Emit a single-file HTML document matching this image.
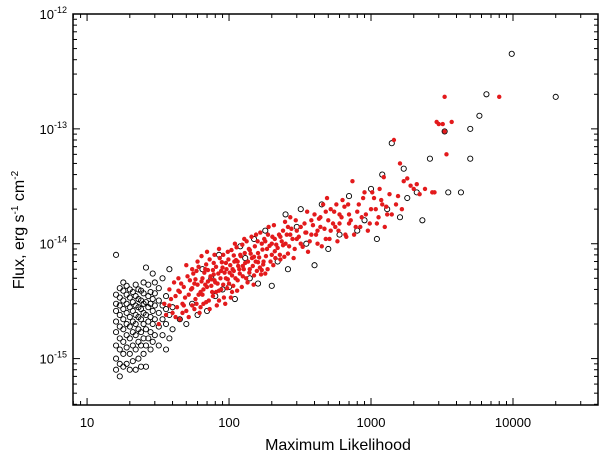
<!DOCTYPE html>
<html><head><meta charset="utf-8"><style>
html,body{margin:0;padding:0;background:#fff;}
svg{display:block;font-family:"Liberation Sans",Arial,sans-serif;}
</style></head><body>
<svg id="chart" width="600" height="456" viewBox="0 0 600 456">
<g id="marks"></g>
<g id="axes"></g>
<text x="338" y="450" text-anchor="middle" font-size="16">Maximum Likelihood</text>
<text transform="translate(24,230) rotate(-90)" text-anchor="middle" font-size="16">Flux, erg s<tspan dy="-6" font-size="10">-1</tspan><tspan dy="6"> cm</tspan><tspan dy="-6" font-size="10">-2</tspan></text>
</svg>
<script>
// Data: ML value, flux in units of 1e-15 erg s^-1 cm^-2
const blackML = [16,16,16,16,16,16,16,16,16,17,17,17,17,17,17,17,17,17,18,18,18,18,18,18,18,18,18,19,19,19,19,19,19,19,19,20,20,20,20,20,20,20,20,21,21,21,21,21,21,21,22,22,22,22,22,22,22,22,23,23,23,23,23,23,23,24,24,24,24,24,24,24,25,25,25,25,25,25,25,26,26,26,26,26,26,27,27,27,27,27,28,28,28,28,28,29,29,29,29,29,30,30,30,30,30,32,32,32,32,32,34,34,34,34,36,36,36,36,38,38,38,40,40,
45,50,55,60,65,70,80,90,100,110,120,140,160,180,200,220,260,300,320,350,400,450,500,600,700,800,900,1000,1100,1200,1300,1400,1600,1700,1800,2100,2300,2600,3300,3500,4300,5000,5000,5800,6500,9800,20000,250,150,130,75,85];
const blackFlux = [0.8,1.0,1.3,1.7,2.1,2.6,3.0,3.6,8.0,0.7,0.9,1.2,1.5,1.9,2.4,2.9,3.4,4.1,0.85,1.1,1.4,1.8,2.2,2.7,3.2,3.9,4.6,0.9,1.25,1.6,2.0,2.5,3.0,3.6,4.3,0.8,1.1,1.5,1.9,2.3,2.8,3.4,4.0,0.95,1.3,1.7,2.1,2.6,3.1,3.8,0.8,1.2,1.6,2.0,2.4,2.9,3.5,4.4,1.0,1.4,1.8,2.3,2.8,3.3,4.0,0.85,1.3,1.7,2.2,2.7,3.2,3.9,1.1,1.5,2.0,2.5,3.0,3.7,4.6,0.85,1.3,1.8,2.4,3.1,6.2,1.5,2.1,2.8,3.5,4.4,1.2,1.7,2.3,3.0,3.8,1.4,2.0,2.6,3.3,5.5,1.6,2.2,2.9,3.7,4.6,1.3,1.9,2.5,3.2,4.1,1.6,2.2,2.9,5.0,1.2,2.0,2.7,3.5,1.5,2.4,6.0,1.8,2.8,
2.2,2.0,3.0,2.4,6.0,2.6,3.5,4.0,4.2,3.3,9.5,5.0,4.5,13,4.3,7,6,14,20,10,6.5,22,9,12,26,13,16,30,11,40,20,75,17,45,25,28,16,55,95,28,28,55,100,130,200,450,190,18,11,7.5,5.0,8.0];
const redML = [32,35,38,40,42,44,45,47,48,50,50,52,53,55,56,58,60,60,62,63,65,66,68,70,70,72,74,76,78,80,82,84,86,88,90,92,95,98,100,102,105,108,110,112,115,118,120,125,128,130,135,138,140,145,150,155,160,165,170,175,180,185,190,200,205,210,220,230,240,250,260,270,280,290,300,320,340,360,380,400,420,440,460,480,500,520,550,580,600,630,660,700,740,780,820,860,900,950,1000,1050,1100,1150,1200,1300,1350,1450,1500,1600,1700,1900,2000,2200,2700,2900,3000,3300,3300,3400,3700,8000,2800,1250,
45,55,65,75,85,95,105,115,140,160,180,210,240,270,320,380,440,520,600,700,38,42,48,58,68,78,88,98,108,125,150,170,200,230,260,300,350,420,480,560,650,
36,39,41,43,44,46,47,49,51,52,54,55,57,57,59,59,61,61,63,64,64,66,67,69,69,71,71,73,73,75,77,77,79,79,81,81,83,85,85,87,89,91,91,93,94,96,97,99,101,103,104,106,107,109,111,113,114,116,119,121,123,124,127,129,132,133,136,139,142,144,147,149,152,154,157,159,163,166,168,172,174,177,182,187,188,193,196,202,207,212,215,225,228,235,245,248,255,265,275,285,295,310,330,345,355,370,390,410,430,450,470,490,510,540,570,590,620,670,690,720,760,800,840,880,920,980,1020,1080,1130,1180,1230,1280,1400,1550,1650,1800,2100,2400,3200];
const redFlux = [2.0,3.0,4.0,2.5,3.5,5.0,2.2,3.0,4.2,6.5,2.6,3.6,4.8,2.9,5.5,3.3,4.4,7.0,2.5,3.8,5.0,3.0,6.0,4.2,8.5,3.2,5.2,3.8,6.8,4.6,2.9,5.5,7.5,4.0,6.2,3.4,5.0,8.5,4.5,6.5,3.8,5.8,10,7.2,4.8,6.0,8.0,5.2,11,6.8,4.6,9.0,6.0,7.5,5.3,12,8.3,6.2,10,7.0,5.5,9.0,14,8.0,6.5,11,9.2,7.3,13,10,8.2,17,11,9.0,13,10,15,8.5,12,18,10,14,22,11,16,13,19,10.5,15,24,12,18,35,14,22,17,28,13,20,25,15,30,22,18,27,80,22,50,35,32,30,27,28,115,110,190,95,60,115,190,28,14,
3.8,4.1,3.6,4.9,3.9,6.8,5.3,7.0,8.8,6.9,10.5,8.6,9.7,12,14,16,17,20,18,15,2.9,2.3,2.9,4.9,4.4,5.4,5.8,4.9,7.9,6.4,7.7,5.9,10,11.5,14,11,12.5,13,19,14,21,
2.4,3.3,4.6,2.8,3.9,4.5,2.5,3.4,5.2,2.3,4.0,6.0,2.7,4.5,3.0,5.8,3.6,6.3,2.8,4.7,7.8,4.0,5.6,3.1,6.6,4.7,5.9,2.7,7.3,4.3,5.9,3.5,4.8,8.0,3.8,6.3,4.5,3.2,9.0,5.0,6.9,4.4,8.0,5.6,3.0,6.0,4.1,7.3,5.6,3.4,8.8,6.0,4.3,7.0,5.0,9.3,3.9,6.4,5.5,7.8,4.2,9.8,6.0,8.3,5.0,10.5,7.0,5.6,8.2,11.5,6.4,4.4,9.5,7.0,5.8,10.5,7.6,12.5,5.4,8.9,6.6,11,7.8,6.0,12,9.6,7.0,11.5,14.5,7.5,9.8,12,8.0,10.5,7.7,15.5,12,9.5,13.5,7.5,16,11.5,9.4,12.5,19,10.5,14.5,12,16.5,9.5,13.5,25,11,15,22,13,17,11.5,22,16,12,19,14,25,18,15,28,20,17,24,38,21,18,26,20,37,33,30,110];
const xTickLabels = ["10","100","1000","10000"];
const yTickExps = ["-12","-13","-14","-15"];

const L=73,R=598,T=14,B=405;
const X0=Math.log10(7.96),X1=Math.log10(39700);
const Y0=-15.404,Y1=-12;
const xs=v=>L+(Math.log10(v)-X0)/(X1-X0)*(R-L);
const ys=f=>B-(Math.log10(f*1e-15)-Y0)/(Y1-Y0)*(B-T);
const NS="http://www.w3.org/2000/svg";
const marks=document.getElementById('marks'), axes=document.getElementById('axes');
function mk(tag,attrs,parent){const e=document.createElementNS(NS,tag);for(const k in attrs)e.setAttribute(k,attrs[k]);parent.appendChild(e);return e;}

blackML.forEach((m,i)=>{
  const c=mk('circle',{cx:xs(m),cy:ys(blackFlux[i]),r:2.6,fill:'none',stroke:'#000','stroke-width':0.9},marks);
  
  
});
redML.forEach((m,i)=>{
  const c=mk('circle',{cx:xs(m),cy:ys(redFlux[i]),r:2.2,fill:'#e31a1c'},marks);
  
  
});

const box=mk('rect',{x:L,y:T,width:R-L,height:B-T,fill:'none',stroke:'#000','stroke-width':1.5},axes);



for(let d=0;d<=4;d++){for(let k=1;k<=9;k++){
  const v=k*Math.pow(10,d);const x=xs(v);if(x<L||x>R)continue;
  const len=k===1?7:4;
  mk('line',{x1:x,y1:B,x2:x,y2:B-len,stroke:'#000','stroke-width':1},axes);
  mk('line',{x1:x,y1:T,x2:x,y2:T+len,stroke:'#000','stroke-width':1},axes);
}}
xTickLabels.forEach(s=>{
  const t=mk('text',{x:xs(parseFloat(s)),y:B+22,'text-anchor':'middle','font-size':13},axes);
  t.textContent=s;
  
  
});
for(let e=-16;e<=-12;e++){for(let k=1;k<=9;k++){
  const f=k*Math.pow(10,e)/1e-15;const y=ys(f);if(y<T-0.5||y>B)continue;
  const len=k===1?7:4;
  mk('line',{x1:L,y1:y,x2:L+len,y2:y,stroke:'#000','stroke-width':1},axes);
  mk('line',{x1:R,y1:y,x2:R-len,y2:y,stroke:'#000','stroke-width':1},axes);
}}
yTickExps.forEach(s=>{
  const y=ys(Math.pow(10,parseFloat(s))/1e-15);
  const t=mk('text',{x:L-6,y:y+5,'text-anchor':'end','font-size':13},axes);
  
  
  const a=document.createElementNS(NS,'tspan');a.textContent='10';t.appendChild(a);
  const b=document.createElementNS(NS,'tspan');b.setAttribute('dy','-6');b.setAttribute('font-size','9');b.textContent=s;t.appendChild(b);
});
</script>
</body></html>
